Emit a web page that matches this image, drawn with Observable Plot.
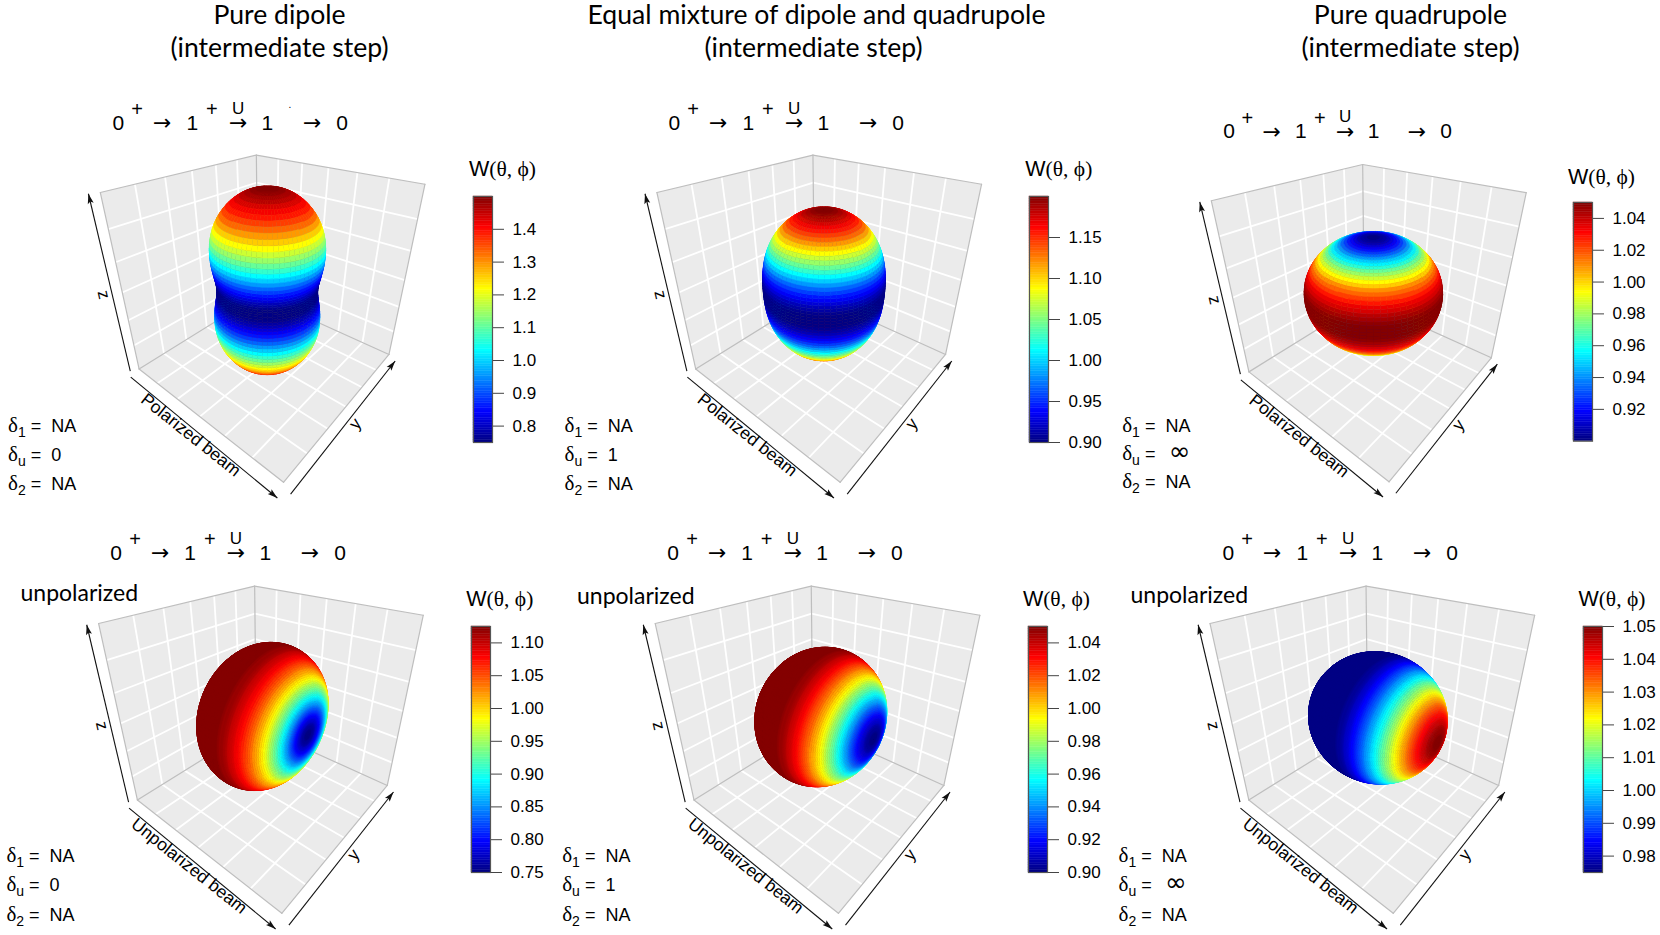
<!DOCTYPE html>
<html>
<head>
<meta charset="utf-8">
<script src="https://cdn.jsdelivr.net/npm/d3@7"></script>
<script src="https://cdn.jsdelivr.net/npm/@observablehq/plot@0.6"></script>
<style>
  html, body { margin: 0; background: #fff; }
  #figure { position: relative; width: 1660px; height: 935px; overflow: hidden; }
  #figure svg { position: absolute; }
</style>
</head>
<body>
<div id="figure"></div>
<script>
// W(angle from the symmetry axis), 0 to 90 degrees evenly spaced
const wDipolePolarized = [1.500,1.498,1.492,1.482,1.468,1.450,1.428,1.404,1.376,1.345,1.312,1.278,1.241,1.203,1.164,1.125,1.086,1.047,1.009,0.972,0.938,0.905,0.874,0.846,0.822,0.800,0.782,0.768,0.758,0.752,0.750];
const wMixturePolarized = [1.200,1.199,1.197,1.193,1.187,1.180,1.171,1.161,1.150,1.138,1.125,1.111,1.096,1.081,1.066,1.050,1.034,1.019,1.004,0.989,0.975,0.962,0.950,0.939,0.929,0.920,0.913,0.907,0.903,0.901,0.900];
const wQuadrupolePolarized = [0.900,0.900,0.902,0.904,0.907,0.910,0.914,0.919,0.925,0.931,0.938,0.945,0.952,0.959,0.967,0.975,0.983,0.991,0.998,1.006,1.013,1.019,1.025,1.031,1.036,1.040,1.044,1.046,1.048,1.050,1.050];
const wDipoleUnpolarized = [0.7500,0.7503,0.7510,0.7523,0.7541,0.7564,0.7592,0.7625,0.7662,0.7704,0.7751,0.7802,0.7858,0.7918,0.7982,0.8049,0.8120,0.8195,0.8273,0.8354,0.8438,0.8524,0.8612,0.8703,0.8796,0.8890,0.8985,0.9082,0.9179,0.9277,0.9375,0.9473,0.9571,0.9668,0.9765,0.9860,0.9954,1.0047,1.0138,1.0226,1.0313,1.0396,1.0477,1.0555,1.0630,1.0701,1.0769,1.0832,1.0892,1.0948,1.1000,1.1046,1.1088,1.1125,1.1158,1.1186,1.1209,1.1227,1.1240,1.1247,1.1250];
const wMixtureUnpolarized = [0.9000,0.9001,0.9004,0.9009,0.9016,0.9026,0.9037,0.9050,0.9065,0.9082,0.9100,0.9121,0.9143,0.9167,0.9193,0.9220,0.9248,0.9278,0.9309,0.9342,0.9375,0.9410,0.9445,0.9481,0.9518,0.9556,0.9594,0.9633,0.9672,0.9711,0.9750,0.9789,0.9828,0.9867,0.9906,0.9944,0.9982,1.0019,1.0055,1.0091,1.0125,1.0158,1.0191,1.0222,1.0252,1.0280,1.0307,1.0333,1.0357,1.0379,1.0400,1.0418,1.0435,1.0450,1.0463,1.0474,1.0484,1.0491,1.0496,1.0499,1.0500];
const wQuadrupoleUnpolarized = [1.0500,1.0499,1.0498,1.0495,1.0492,1.0487,1.0482,1.0475,1.0468,1.0459,1.0450,1.0440,1.0428,1.0416,1.0404,1.0390,1.0376,1.0361,1.0345,1.0329,1.0313,1.0295,1.0278,1.0259,1.0241,1.0222,1.0203,1.0184,1.0164,1.0145,1.0125,1.0105,1.0086,1.0066,1.0047,1.0028,1.0009,0.9991,0.9972,0.9955,0.9938,0.9921,0.9905,0.9889,0.9874,0.9860,0.9846,0.9834,0.9822,0.9811,0.9800,0.9791,0.9782,0.9775,0.9768,0.9763,0.9758,0.9755,0.9752,0.9751,0.9750];
const lobeTables = [wDipolePolarized, wMixturePolarized, wQuadrupolePolarized, wDipoleUnpolarized, wMixtureUnpolarized, wQuadrupoleUnpolarized];
const lobeAxis = ["z", "z", "z", "u", "u", "u"];

// colour bars
const barMin = [0.75, 0.90, 0.90, 0.75, 0.90, 0.975];
const barMax = [1.50, 1.20, 1.05, 1.125, 1.05, 1.05];
const barTicks = [
  [0.8, 0.9, 1.0, 1.1, 1.2, 1.3, 1.4],
  [0.90, 0.95, 1.00, 1.05, 1.10, 1.15],
  [0.92, 0.94, 0.96, 0.98, 1.00, 1.02, 1.04],
  [0.75, 0.80, 0.85, 0.90, 0.95, 1.00, 1.05, 1.10],
  [0.90, 0.92, 0.94, 0.96, 0.98, 1.00, 1.02, 1.04],
  [0.98, 0.99, 1.00, 1.01, 1.02, 1.03, 1.04, 1.05]
];
const barFormat = [".1f", ".2f", ".2f", ".2f", ".2f", ".2f"];
const barLeft = [473, 1029, 1572.5, 471, 1027.5, 1582.5];
const barTop = [195.7, 195.7, 202.3, 625.7, 625.7, 625.7];
const barHeight = [246, 246, 238.7, 246, 246, 246];
const jet = ["#00007F", "#0000FF", "#007FFF", "#00FFFF", "#7FFF7F", "#FFFF00", "#FF7F00", "#FF0000", "#7F0000"];
const jetStops = jet.map((c, i) => i / (jet.length - 1));

// texts
const titleLines = [
  {x: 279, y: 15, text: "Pure dipole"}, {x: 279, y: 47.5, text: "(intermediate step)"},
  {x: 816, y: 15, text: "Equal mixture of dipole and quadrupole"}, {x: 813, y: 47.5, text: "(intermediate step)"},
  {x: 1410, y: 15, text: "Pure quadrupole"}, {x: 1410, y: 47.5, text: "(intermediate step)"}
];
const transitionTokens = ["0", "+", "\u2192", "1", "+", "U", "\u2192", "1", "\u2192", "0"];
const transitionX = [117.8, 136.7, 161.8, 191.8, 211.4, 237.6, 237.6, 266.9, 311.6, 341.6];
const transitionY = [122.3, 109, 122.5, 122.3, 109, 107.7, 122.5, 122.3, 122.5, 122.3];
const transitionSize = [21, 20, 22, 21, 20, 17, 22, 21, 22, 21];
const transitionDx = [0, 556, 1110.7, -2.1, 554.8, 1110];
const transitionDy = [0, 0, 8.7, 430, 430, 430];
const transitionScale = [1, 1, 0.97, 1, 1, 1];
const deltaNames = ["1", "u", "2"];
const deltaValues = ["0", "1", "\u221E", "0", "1", "\u221E"];
const deltaX = [7.6, 564, 1121.7, 5.9, 561.7, 1118];
const deltaY = [[425.7, 455, 484], [425.7, 455, 484], [425.7, 454, 482], [855.7, 885, 915], [855.7, 885, 915], [855.7, 885, 915]];
const headerX = [502, 1058.3, 1601, 499.3, 1055.9, 1611.4];
const headerY = [169, 169, 176.7, 598.3, 598.3, 598.3];
const unpolarizedX = [20, 576.5, 1130];
const unpolarizedY = [593.3, 595.7, 595];

// box corners as seen in the first panel, the others are shifted copies
const boxCorners = [[0,0,0],[1,0,0],[1,1,0],[0,1,0],[0,0,1],[0,1,1],[1,1,1]];
const boxPixels = [[139.5,370],[282.4,480.7],[389.1,355],[256.5,293.3],[99.2,191],[256.5,155.7],[424.2,183.3]];
const panelDx = [0, 556.6, 1114, -1.7, 554.9, 1109.7];
const panelDy = [0, 0, 14, 431, 431, 431];
const panelScale = [1, 1, 0.97, 1, 1, 1];
const gridAt = [0.167, 0.333, 0.5, 0.667, 0.833];
const boxHalf = 1.5; // half a box edge in units of W
const beamLabel = ["Polarized beam", "Polarized beam", "Polarized beam", "Unpolarized beam", "Unpolarized beam", "Unpolarized beam"];

// camera fitted on the corners
function fitCamera(box, px) {
  const A = [], b = [];
  box.forEach(([X, Y, Z], i) => {
    const [x, y] = px[i];
    A.push([X, Y, Z, 1, 0, 0, 0, 0, -x * X, -x * Y, -x * Z]); b.push(x);
    A.push([0, 0, 0, 0, X, Y, Z, 1, -y * X, -y * Y, -y * Z]); b.push(y);
  });
  const n = 11;
  const M = d3.range(n).map(i => d3.range(n + 1).map(j =>
    j < n ? d3.sum(A, r => r[i] * r[j]) : d3.sum(A, (r, k) => r[i] * b[k])));
  for (let c = 0; c < n; c++) {
    let p = c;
    for (let r = c + 1; r < n; r++) if (Math.abs(M[r][c]) > Math.abs(M[p][c])) p = r;
    [M[c], M[p]] = [M[p], M[c]];
    for (let r = 0; r < n; r++) {
      if (r === c) continue;
      const f = M[r][c] / M[c][c];
      for (let k = c; k <= n; k++) M[r][k] -= f * M[c][k];
    }
  }
  return M.map((r, i) => r[n] / r[i]);
}
const cam = fitCamera(boxCorners, boxPixels);
const depth = (u, v, z) => cam[8] * u + cam[9] * v + cam[10] * z + 1;
function project(p, u, v, z) {
  const w = depth(u, v, z);
  return {
    x: panelDx[p] + panelScale[p] * (cam[0] * u + cam[1] * v + cam[2] * z + cam[3]) / w,
    y: panelDy[p] + panelScale[p] * (cam[4] * u + cam[5] * v + cam[6] * z + cam[7]) / w
  };
}

// walls, grid, edges, axis arrows
const walls = [], gridLines = [], edges = [], arrows = [], arrowHeads = [];
const faces = [
  [[0,0,0],[0,0,1],[0,1,1],[0,1,0]],
  [[0,1,0],[0,1,1],[1,1,1],[1,1,0]],
  [[0,0,0],[1,0,0],[1,1,0],[0,1,0]]
];
const edgeList = [[[0,0,1],[0,1,1]],[[0,1,1],[1,1,1]],[[1,1,1],[1,1,0]],[[0,0,1],[0,0,0]],[[0,1,1],[0,1,0]],[[0,0,0],[1,0,0]],[[1,0,0],[1,1,0]],[[0,0,0],[0,1,0]],[[0,1,0],[1,1,0]]];
const axisEnds = [[[-0.022,-0.041,0],[-0.022,-0.041,1]], [[0.02,-0.065,0],[1.02,-0.065,0]], [[1.05,-0.02,0],[1.05,0.97,0]]];
lobeTables.forEach((_, p) => {
  faces.forEach((f, fi) => {
    [...f, f[0]].forEach(c => walls.push({id: `${p}-${fi}`, ...project(p, ...c)}));
    gridAt.forEach((g, gi) => {
      const lerp = (a, b) => a.map((s, k) => s + (b[k] - s) * g);
      [[lerp(f[0], f[3]), lerp(f[1], f[2])], [lerp(f[0], f[1]), lerp(f[3], f[2])]].forEach((seg, si) => {
        seg.forEach(c => gridLines.push({id: `${p}-${fi}-${gi}-${si}`, ...project(p, ...c)}));
      });
    });
  });
  edgeList.forEach((e, i) => e.forEach(c => edges.push({id: `${p}-${i}`, ...project(p, ...c)})));
  axisEnds.forEach(([a, b], i) => {
    const s = project(p, ...a), t = project(p, ...b);
    arrows.push({x1: s.x, y1: s.y, x2: t.x, y2: t.y});
    const len = Math.hypot(t.x - s.x, t.y - s.y), ux = (t.x - s.x) / len, uy = (t.y - s.y) / len;
    [[0, 0], [-10, 3], [-8, 0], [-10, -3]].forEach(([along, across]) => arrowHeads.push({
      id: `${p}-${i}`, x: t.x + along * ux - across * uy, y: t.y + along * uy + across * ux
    }));
  });
});

// lobe surfaces: small quads, far ones first
const phiStep = 5;
const lobeCells = [];
lobeTables.forEach((half, p) => {
  const W = half.concat(half.slice(0, -1).reverse());
  // the far side of the unpolarized lobes stays at the 90 degree colour in the picture
  const shade = lobeAxis[p] === "u" ? W.map((w, i) => i < half.length ? w : half[half.length - 1]) : W;
  const thetaStep = 90 / (half.length - 1);
  const span = barMax[p] - barMin[p];
  const point = (i, j) => {
    const a = i * thetaStep * Math.PI / 180, f = j * phiStep * Math.PI / 180;
    const r = W[i] / (2 * boxHalf);
    const d = lobeAxis[p] === "z"
      ? [Math.sin(a) * Math.cos(f), Math.sin(a) * Math.sin(f), Math.cos(a)]
      : [Math.cos(a), Math.sin(a) * Math.cos(f), Math.sin(a) * Math.sin(f)];
    return [0.5 + r * d[0], 0.5 + r * d[1], 0.5 + r * d[2]];
  };
  const quads = [];
  for (let i = 0; i < W.length - 1; i++) {
    for (let j = 0; j < 360 / phiStep; j++) {
      const c = [point(i, j), point(i + 1, j), point(i + 1, j + 1), point(i, j + 1)];
      quads.push({
        c,
        w: d3.mean(c, q => depth(...q)),
        t: Math.min(0.995, Math.floor(100 * ((shade[i] + shade[i + 1]) / 2 - barMin[p]) / span) / 100 + 0.005)
      });
    }
  }
  quads.sort((a, b) => b.w - a.w);
  quads.forEach((q, n) => {
    [...q.c, q.c[0]].forEach(c => lobeCells.push({id: p * 100000 + n, t: q.t, ...project(p, ...c)}));
  });
});

// text rows
const tokens = [], deltas = [], headers = [], axisLabels = [], beamLabels = [];
lobeTables.forEach((_, p) => {
  const s = transitionScale[p];
  transitionTokens.forEach((text, i) => tokens.push({
    text, size: transitionSize[i],
    x: transitionDx[p] + (transitionX[0] + (transitionX[i] - transitionX[0]) * s),
    y: transitionDy[p] + transitionY[i]
  }));
  deltaNames.forEach((n, i) => deltas.push({
    text: `\u03B4${n} = ${i === 1 ? deltaValues[p] : "NA"}`, x: deltaX[p], y: deltaY[p][i]
  }));
  headers.push({text: "W(\u03B8, \u03D5)", x: headerX[p], y: headerY[p]});
  const at = (x, y) => ({x: panelDx[p] + panelScale[p] * x, y: panelDy[p] + panelScale[p] * y});
  axisLabels.push({text: "z", rotate: 77.3, ...at(103.3, 294.3)});
  axisLabels.push({text: "y", rotate: -50.6, ...at(354.7, 423.3)});
  beamLabels.push({text: beamLabel[p], rotate: 38.5, ...at(190.3, 434.5)});
});
tokens.push({text: ".", size: 10, x: 289.3, y: 104});
const unpolarized = unpolarizedX.map((x, i) => ({text: "unpolarized", x, y: unpolarizedY[i]}));

const sans = "'Liberation Sans', Arial, sans-serif";
const isArrow = d => d.text === "\u2192";
const chart = Plot.plot({
  width: 1660, height: 935, margin: 0,
  x: {domain: [0, 1660], range: [0, 1660], axis: null},
  y: {domain: [0, 935], range: [0, 935], axis: null},
  color: {type: "linear", domain: jetStops, range: jet, interpolate: "rgb"},
  style: {background: "transparent"},
  marks: [
    Plot.line(walls, {x: "x", y: "y", z: "id", fill: "#EBEBEB", stroke: "none"}),
    Plot.line(gridLines, {x: "x", y: "y", z: "id", stroke: "#fff", strokeWidth: 1.8}),
    Plot.line(edges, {x: "x", y: "y", z: "id", stroke: "#BEBEBE", strokeWidth: 1.2}),
    Plot.link(arrows, {x1: "x1", y1: "y1", x2: "x2", y2: "y2", stroke: "#111", strokeWidth: 1.1}),
    Plot.line(arrowHeads, {x: "x", y: "y", z: "id", fill: "#111", stroke: "none"}),
    Plot.line(lobeCells, {x: "x", y: "y", z: "id", fill: d => d.t, stroke: d => d.t, strokeWidth: 0.5}),
    Plot.text(titleLines, {x: "x", y: "y", text: "text", fontSize: 26.6, fontFamily: "Lato", fill: "#000"}),
    Plot.text(unpolarized, {x: "x", y: "y", text: "text", fontSize: 23, fontFamily: "Lato", textAnchor: "start", fill: "#000"}),
    Plot.text(tokens.filter(d => !isArrow(d)), {x: "x", y: "y", text: "text", fontSize: "size", fontFamily: sans, fill: "#000"}),
    Plot.text(tokens.filter(isArrow), {x: "x", y: "y", text: "text", fontSize: "size", fontFamily: "'DejaVu Sans'", fill: "#000"}),
    Plot.text(deltas, {x: "x", y: "y", text: "text", fontSize: 18, fontFamily: sans, textAnchor: "start", fill: "#000"}),
    Plot.text(headers, {x: "x", y: "y", text: "text", fontSize: 21.5, fontFamily: "'Liberation Serif', serif", fill: "#000"}),
    Plot.text(axisLabels, {x: "x", y: "y", text: "text", rotate: "rotate", fontSize: 17, fontFamily: sans, fill: "#000"}),
    Plot.text(beamLabels, {x: "x", y: "y", text: "text", rotate: "rotate", fontSize: 17.5, fontFamily: sans, fill: "#000"})
  ]
});
const figure = document.getElementById("figure");
figure.appendChild(chart);

// subscripts and mixed fonts, Plot.text has no rich text
d3.select(chart).selectAll("text").each(function () {
  const label = this.textContent, node = d3.select(this);
  if (label[0] === "\u03B4") {
    const [, sub, value] = label.match(/^.(.) = (.*)$/);
    node.text(null);
    node.append("tspan").attr("font-family", "'Liberation Serif', serif").attr("font-size", 21).text("\u03B4");
    node.append("tspan").attr("font-size", 14).attr("dy", 5).text(sub);
    node.append("tspan").attr("dy", -5).attr("dx", 5).text("=");
    const last = node.append("tspan").attr("dx", 5).text(" " + value);
    if (value === "\u221E") last.attr("font-family", "'DejaVu Sans'").attr("font-size", 26);
  } else if (label[0] === "W") {
    node.text(null);
    node.append("tspan").attr("font-family", sans).text("W");
    node.append("tspan").text(label.slice(1));
  }
});

// one small plot per colour bar, with its own axis
lobeTables.forEach((_, p) => {
  const levels = d3.range(100).map(i => ({
    t: (i + 0.5) / 100,
    low: barMin[p] + (barMax[p] - barMin[p]) * i / 100,
    high: barMin[p] + (barMax[p] - barMin[p]) * (i + 1) / 100
  }));
  const bar = Plot.plot({
    width: 69, height: barHeight[p] + 2,
    marginLeft: 0, marginRight: 50, marginTop: 1, marginBottom: 1,
    x: {domain: [0, 1], axis: null},
    y: {domain: [barMin[p], barMax[p]], axis: null},
    color: {type: "linear", domain: jetStops, range: jet, interpolate: "rgb"},
    style: {background: "transparent", overflow: "visible", fontSize: "17px", fontFamily: sans, color: "#000"},
    marks: [
      Plot.rect(levels, {x1: 0, x2: 1, y1: "low", y2: "high", fill: "t", stroke: "t", strokeWidth: 0.4}),
      Plot.frame({stroke: "#555", strokeWidth: 1.2}),
      Plot.axisY(barTicks[p], {anchor: "right", tickSize: 11, tickPadding: 9, tickFormat: d3.format(barFormat[p]), label: null, stroke: "#444"})
    ]
  });
  bar.style.left = `${barLeft[p]}px`;
  bar.style.top = `${barTop[p] - 1}px`;
  figure.appendChild(bar);
});
</script>
</body>
</html>
